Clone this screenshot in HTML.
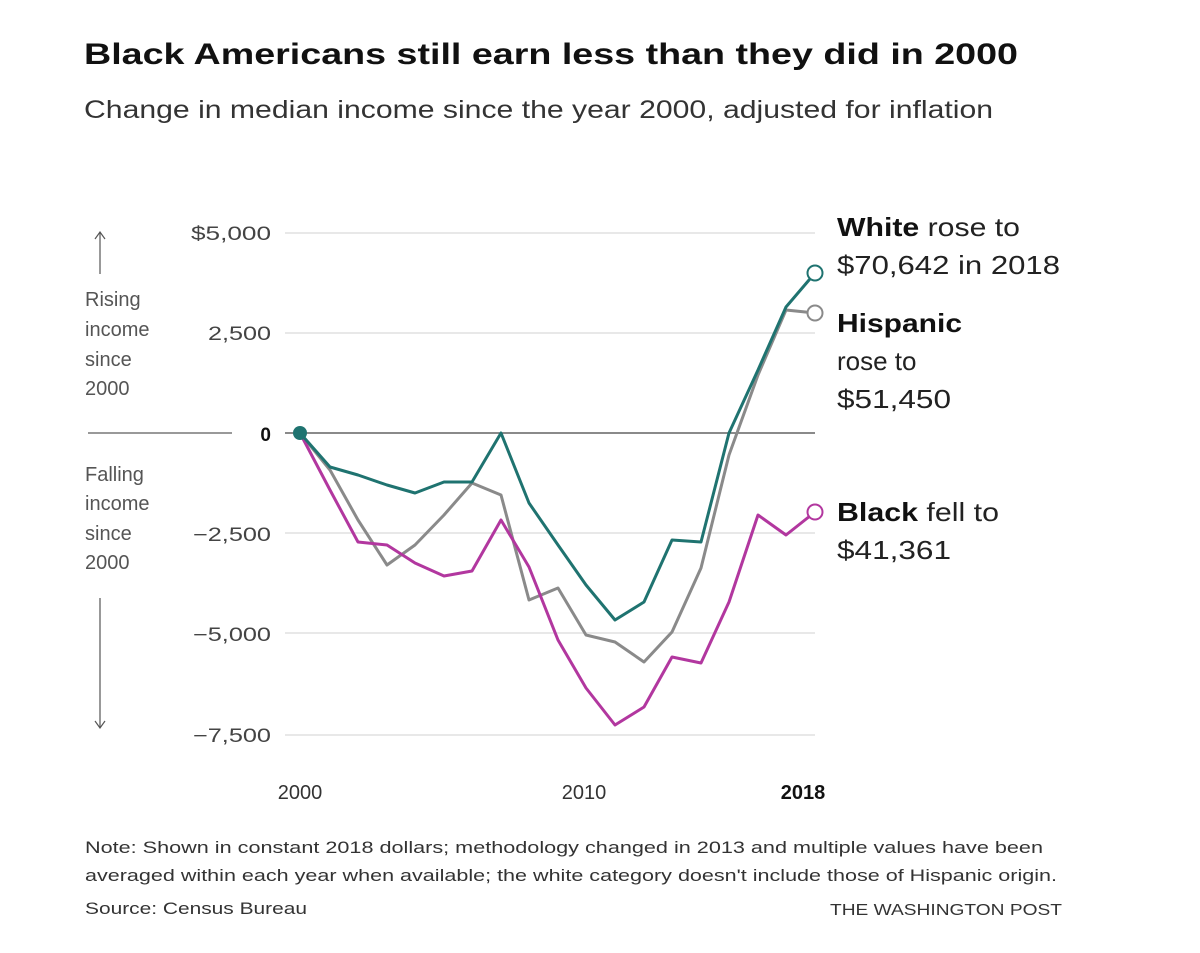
<!DOCTYPE html>
<html><head><meta charset="utf-8"><style>
body{margin:0;background:#fff;font-family:"Liberation Sans",sans-serif;}
</style></head><body>
<svg width="1200" height="948" xmlns="http://www.w3.org/2000/svg" font-family="Liberation Sans, sans-serif">
<text x="84" y="64" font-size="30" font-weight="bold" fill="#111" textLength="934" lengthAdjust="spacingAndGlyphs">Black Americans still earn less than they did in 2000</text>
<text x="84" y="118" font-size="25" fill="#333" textLength="909" lengthAdjust="spacingAndGlyphs">Change in median income since the year 2000, adjusted for inflation</text>
<g stroke="#e8e8e8" stroke-width="2">
<line x1="285" y1="233" x2="815" y2="233"/><line x1="285" y1="333" x2="815" y2="333"/>
<line x1="285" y1="533" x2="815" y2="533"/><line x1="285" y1="633" x2="815" y2="633"/><line x1="285" y1="735" x2="815" y2="735"/>
</g>
<line x1="88" y1="433" x2="232" y2="433" stroke="#333" stroke-width="1"/>
<line x1="285" y1="433" x2="815" y2="433" stroke="#444" stroke-width="1.3"/>
<g font-size="19" fill="#444" text-anchor="end">
<text x="271" y="240" textLength="80" lengthAdjust="spacingAndGlyphs">$5,000</text><text x="271" y="340" textLength="63" lengthAdjust="spacingAndGlyphs">2,500</text>
<text x="271" y="441" font-weight="bold" fill="#111">0</text>
<text x="271" y="541" textLength="78" lengthAdjust="spacingAndGlyphs">−2,500</text><text x="271" y="641" textLength="78" lengthAdjust="spacingAndGlyphs">−5,000</text><text x="271" y="742" textLength="78" lengthAdjust="spacingAndGlyphs">−7,500</text>
</g>
<g font-size="20" fill="#555">
<text x="85" y="306">Rising</text><text x="85" y="336">income</text><text x="85" y="366">since</text><text x="85" y="395">2000</text>
<text x="85" y="481">Falling</text><text x="85" y="510">income</text><text x="85" y="540">since</text><text x="85" y="569">2000</text>
</g>
<g stroke="#555" stroke-width="1.2" fill="none">
<line x1="100" y1="232" x2="100" y2="274"/><path d="M95 239 L100 232 L105 239"/>
<line x1="100" y1="598" x2="100" y2="728"/><path d="M95 721 L100 728 L105 721"/>
</g>
<g font-size="20" fill="#333" text-anchor="middle">
<text x="300" y="799">2000</text><text x="584" y="799">2010</text>
<text x="803" y="799" font-weight="bold" fill="#111">2018</text>
</g>
<g fill="none" stroke-width="3" stroke-linejoin="round">
<polyline stroke="#8a8a8a" points="300,433 330,470 358,520 387,565 415,545 444,515 472,483 501,495 529,600 558,588 586,635 615,642 644,662 672,632 701,568 729,455 758,375 786,310 815,313"/>
<polyline stroke="#b2379f" points="300,433 330,490 358,542 387,545 415,563 444,576 472,571 501,520 529,567 558,640 586,688 615,725 644,707 672,657 701,663 729,602 758,515 786,535 815,512"/>
<polyline stroke="#1f7370" points="300,433 330,467 358,475 387,485 415,493 444,482 472,482 501,433 529,503 558,545 586,585 615,620 644,602 672,540 701,542 729,433 758,370 786,307 815,273"/>
</g>
<circle cx="300" cy="433" r="7" fill="#1f7370"/>
<circle cx="815" cy="273" r="7.5" fill="#fff" stroke="#1f7370" stroke-width="2"/>
<circle cx="815" cy="313" r="7.5" fill="#fff" stroke="#8a8a8a" stroke-width="2"/>
<circle cx="815" cy="512" r="7.5" fill="#fff" stroke="#b2379f" stroke-width="2"/>
<g font-size="26" fill="#222">
<text x="837" y="236" textLength="183" lengthAdjust="spacingAndGlyphs"><tspan font-weight="bold" fill="#111">White</tspan> rose to</text>
<text x="837" y="274" textLength="223" lengthAdjust="spacingAndGlyphs">$70,642 in 2018</text>
<text x="837" y="332" font-weight="bold" fill="#111" textLength="125" lengthAdjust="spacingAndGlyphs">Hispanic</text>
<text x="837" y="370">rose to</text>
<text x="837" y="408" textLength="114" lengthAdjust="spacingAndGlyphs">$51,450</text>
<text x="837" y="521" textLength="162" lengthAdjust="spacingAndGlyphs"><tspan font-weight="bold" fill="#111">Black</tspan> fell to</text>
<text x="837" y="559" textLength="114" lengthAdjust="spacingAndGlyphs">$41,361</text>
</g>
<g font-size="17" fill="#333">
<text x="85" y="853" textLength="958" lengthAdjust="spacingAndGlyphs">Note: Shown in constant 2018 dollars; methodology changed in 2013 and multiple values have been</text>
<text x="85" y="881" textLength="972" lengthAdjust="spacingAndGlyphs">averaged within each year when available; the white category doesn't include those of Hispanic origin.</text>
<text x="85" y="914" textLength="222" lengthAdjust="spacingAndGlyphs">Source: Census Bureau</text>
<text x="1062" y="915" text-anchor="end" font-size="16" textLength="232" lengthAdjust="spacingAndGlyphs">THE WASHINGTON POST</text>
</g>
</svg>
</body></html>
